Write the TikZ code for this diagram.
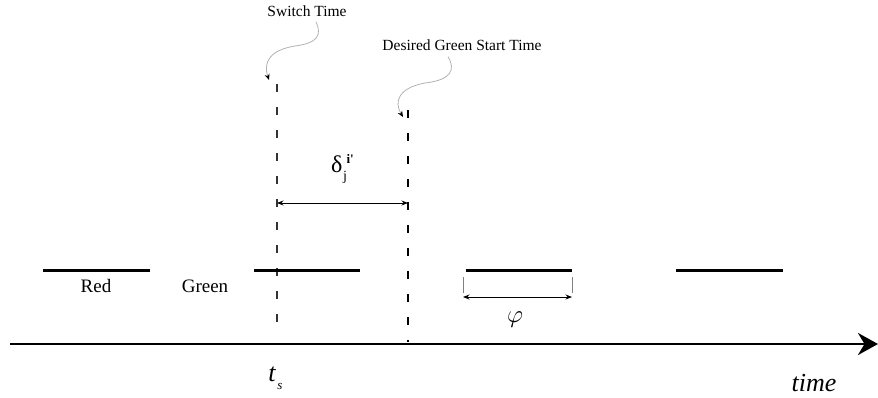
\documentclass[tikz,border=0pt]{standalone}
\usepackage{fontspec}
\setmainfont{Liberation Serif}
\usetikzlibrary{arrows.meta}
\begin{document}
\begin{tikzpicture}[x=1pt,y=-1pt,
  lbl/.style={inner sep=0pt, font=\fontsize{15.5}{18}\selectfont},
  big/.style={inner sep=0pt, font=\fontsize{19}{22}\selectfont},
  bar/.style={line width=3pt},
  dim/.style={line width=0.8pt, {Stealth[length=6.5pt,width=5pt]}-{Stealth[length=6.5pt,width=5pt]}},
  tick/.style={draw=gray, line width=0.7pt},
  curly/.style={draw=gray!60, line width=0.8pt, -{Stealth[length=6pt,width=5pt,color=black]}},
  dashline/.style={line width=1.1pt, dash pattern=on 8pt off 15pt},
]
\useasboundingbox (0,0) rectangle (878,397);

% titles
\node[lbl] (sw) at (307,11) {Switch Time};
\node[lbl] (dg) at (462,45) {Desired Green Start Time};

% curly arrows
\coordinate (swtip) at (269,80);
\coordinate (dgtip) at (403,117);
\draw[curly] (sw.south) ++(9,5) .. controls (322,35) and (318,43) .. (295,46)
  .. controls (270,50) and (263,62) .. (swtip);
\draw[curly] (dg.south) ++(-14,6) .. controls (456,70) and (451,80) .. (425,83)
  .. controls (398,88) and (394,102) .. (dgtip);

% dashed lines
\coordinate (la) at (277,84);
\coordinate (lb) at (277,334);
\coordinate (ra) at (408,110);
\coordinate (rb) at (408,342);
\draw[dashline, draw=black!80] (la) -- (lb);
\draw[dashline] (ra) -- (rb);

% delta dimension
\coordinate (d1) at (277,203);
\coordinate (d2) at (408,203);
\draw[dim] (d1) -- (d2);
\node[inner sep=0pt, anchor=base west, font=\fontsize{24}{26}\selectfont] (delta) at (331,172)
  {δ\kern0.5pt\rlap{\raisebox{-8pt}{\fontsize{14}{15}\selectfont j}}\kern3.5pt\raisebox{9pt}{\fontsize{13}{14}\selectfont\bfseries i\textquotesingle}};

% bars
\draw[bar] (43,270) -- (150,270);
\draw[bar] (254,270) -- (360,270);
\draw[bar] (466,270) -- (572,270);
\draw[bar] (676,270) -- (783,270);

\node[big] (red) at (96,286) {Red};
\node[big] (green) at (205,286) {Green};

% phi dimension
\coordinate (p1) at (463,297);
\coordinate (p2) at (572,297);
\draw[tick] (463,277) -- (463,293);
\draw[tick] (572,277) -- (572,293);
\draw[dim] (p1) -- (p2);
\node[inner sep=0pt, font=\fontsize{27}{30}\selectfont] (phi) at (515,320) {$\varphi$};

% axis
\coordinate (ax0) at (10,344);
\coordinate (ax1) at (878,344);
\draw[line width=2.6pt, -{Stealth[length=20pt,width=22pt]}] (ax0) -- (ax1);

\node[inner sep=0pt, font=\fontsize{26}{28}\selectfont\itshape] (ts) at (272,374) {t};
\node[inner sep=0pt, font=\fontsize{13}{14}\selectfont\itshape] (tss) at (280,386) {s};
\node[inner sep=0pt, font=\fontsize{26}{28}\selectfont\itshape] (time) at (814,383) {time};
\end{tikzpicture}
\end{document}
